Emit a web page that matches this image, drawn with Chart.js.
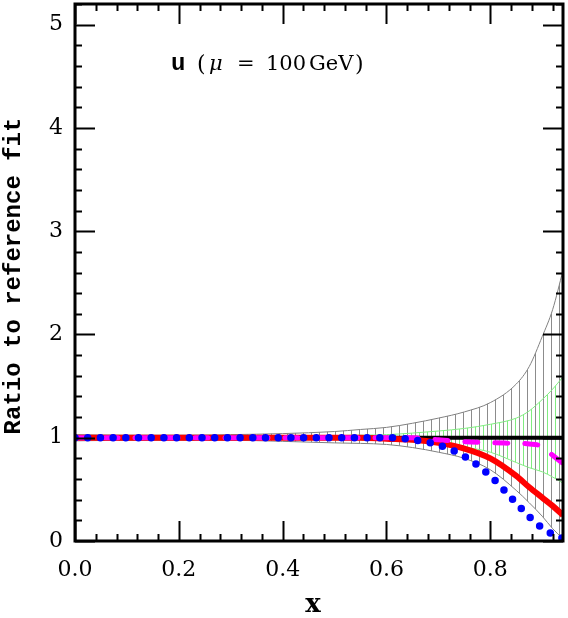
<!DOCTYPE html>
<html lang="en">
<head>
<meta charset="UTF-8">
<title>Ratio to reference fit</title>
<script src="https://cdn.jsdelivr.net/npm/chart.js"></script>
<style>
    body { margin: 0; background: #fff; }
    canvas { display: block; }
</style>
</head>
<body>
<canvas id="ratioChart" width="568" height="618"></canvas>
<script>
    // shared x sampling for every curve
    const xGrid = [0, 0.1, 0.2, 0.3, 0.4, 0.5, 0.55, 0.6, 0.65, 0.7, 0.75, 0.8, 0.85, 0.875, 0.9, 0.92, 0.94];

    // outer (grey hatched) band
    const outerUp  = [1.03, 1.025, 1.025, 1.03, 1.04, 1.06, 1.08, 1.10, 1.14, 1.19, 1.25, 1.34, 1.52, 1.69, 1.98, 2.24, 2.62];
    const outerLow = [0.97, 0.975, 0.975, 0.975, 0.965, 0.95, 0.945, 0.935, 0.905, 0.86, 0.80, 0.69, 0.49, 0.37, 0.24, 0.12, 0.02];

    // inner (green hatched) band
    const innerUp  = [1.01, 1.01, 1.01, 1.012, 1.015, 1.02, 1.025, 1.03, 1.045, 1.065, 1.09, 1.13, 1.19, 1.26, 1.37, 1.47, 1.59];
    const innerLow = [0.99, 0.99, 0.99, 0.99, 0.985, 0.98, 0.977, 0.972, 0.96, 0.945, 0.91, 0.86, 0.76, 0.71, 0.67, 0.62, 0.56];

    // reference line
    const refX = [0, 0.94];
    const refY = [1, 1];

    // fit ratios
    const solidFit  = [1, 1, 1, 1, 1, 1, 1, 0.99, 0.98, 0.95, 0.895, 0.80, 0.63, 0.52, 0.42, 0.34, 0.25];
    const dashedFit = [1, 1, 1, 1, 1, 1, 1, 1, 1.0, 0.98, 0.962, 0.952, 0.945, 0.94, 0.915, 0.83, 0.75];
    const dottedFit = [1, 1, 1, 1, 1, 1, 1, 1.0, 0.98, 0.93, 0.82, 0.63, 0.365, 0.235, 0.125, 0.065, 0.025];

    const xTicks = [0, 0.2, 0.4, 0.6, 0.8];
    const yTicks = [0, 1, 2, 3, 4, 5];

    const canvas = document.getElementById('ratioChart');
    const ctx = canvas.getContext('2d');

    function pts(xs, ys) {
        return xs.map((x, i) => ({ x: x, y: ys[i] }));
    }

    // vertical hatch pattern
    function hatch(color, offset) {
        const c = document.createElement('canvas');
        c.width = 8;
        c.height = 8;
        const g = c.getContext('2d');
        g.fillStyle = color;
        g.fillRect(offset, 0, 1, 8);
        return ctx.createPattern(c, 'repeat');
    }

    const framePlugin = {
        id: 'frame',
        afterDraw(chart) {
            const { ctx, chartArea: a, scales: { x, y } } = chart;
            ctx.save();
            ctx.strokeStyle = '#000';
            ctx.lineWidth = 2;
            ctx.beginPath();
            for (let i = 0; i <= 23; i++) {
                const px = Math.round(x.getPixelForValue(i * 0.04)) + 0.5;
                const len = i % 5 === 0 ? 20 : 7;
                ctx.moveTo(px, a.bottom); ctx.lineTo(px, a.bottom - len);
                ctx.moveTo(px, a.top); ctx.lineTo(px, a.top + len);
            }
            for (let i = 0; i <= 26; i++) {
                const py = Math.round(y.getPixelForValue(i * 0.2)) + 0.5;
                const len = i % 5 === 0 ? 20 : 7;
                ctx.moveTo(a.left, py); ctx.lineTo(a.left + len, py);
                ctx.moveTo(a.right, py); ctx.lineTo(a.right - len, py);
            }
            ctx.stroke();
            ctx.lineWidth = 3;
            ctx.strokeRect(a.left, a.top, a.right - a.left, a.bottom - a.top);

            // labels
            ctx.fillStyle = '#000';
            ctx.textBaseline = 'alphabetic';
            ctx.textAlign = 'left';
            ctx.font = 'bold 24px "Liberation Mono"';
            ctx.fillText('u', 171, 70);
            ctx.font = '22px "DejaVu Serif"';
            ctx.fillText('(', 197, 71);
            ctx.font = 'italic 21px "DejaVu Serif"';
            ctx.fillText('\u03bc', 209, 70);
            ctx.font = '21px "DejaVu Serif"';
            ctx.fillText('=', 237, 70);
            ctx.fillText('100', 266, 70);
            ctx.fillText('GeV', 309, 70);
            ctx.font = '22px "DejaVu Serif"';
            ctx.fillText(')', 355, 71);

            ctx.textAlign = 'center';
            ctx.font = 'bold 26px "DejaVu Serif"';
            ctx.fillText('x', 313, 612);

            ctx.translate(20, 276);
            ctx.rotate(-Math.PI / 2);
            ctx.font = 'bold 24px "Liberation Mono"';
            ctx.fillText('Ratio to reference fit', 0, 0);
            ctx.restore();
        }
    };

    const line = { pointRadius: 0, fill: false, cubicInterpolationMode: 'monotone' };

    new Chart(ctx, {
        type: 'line',
        data: {
            datasets: [
                {
                    ...line, data: pts(xGrid, outerUp), order: 8,
                    borderColor: '#808080', borderWidth: 1,
                    fill: '+1', backgroundColor: hatch('#8c8c8c', 7)
                },
                {
                    ...line, data: pts(xGrid, outerLow), order: 7,
                    borderColor: '#808080', borderWidth: 1
                },
                {
                    ...line, data: pts(xGrid, innerUp), order: 6,
                    borderColor: '#80ec80', borderWidth: 1,
                    fill: '+1', backgroundColor: hatch('#80ec80', 3)
                },
                {
                    ...line, data: pts(xGrid, innerLow), order: 5,
                    borderColor: '#80ec80', borderWidth: 1
                },
                {
                    ...line, data: pts(refX, refY), order: 4,
                    borderColor: '#000', borderWidth: 4
                },
                {
                    ...line, data: pts(xGrid, solidFit), order: 3,
                    borderColor: '#ff0000', borderWidth: 6
                },
                {
                    ...line, data: pts(xGrid, dashedFit), order: 2,
                    borderColor: '#ff00ff', borderWidth: 5,
                    borderDash: [13, 17], borderCapStyle: 'round'
                },
                {
                    ...line, data: pts(xGrid, dottedFit), order: 1,
                    borderColor: '#0000ff', borderWidth: 7.5,
                    borderDash: [0, 12.7], borderCapStyle: 'round'
                }
            ]
        },
        options: {
            responsive: false,
            animation: false,
            layout: { padding: { top: 4, right: 5, left: 0, bottom: 0 } },
            plugins: { legend: { display: false }, tooltip: { enabled: false } },
            scales: {
                x: {
                    type: 'linear',
                    min: 0,
                    max: 0.94,
                    grid: { display: false, drawTicks: false },
                    border: { display: false },
                    afterBuildTicks: s => { s.ticks = xTicks.map(v => ({ value: v })); },
                    afterFit: s => { s.height = 77; s.paddingLeft = 0; s.paddingRight = 0; },
                    ticks: {
                        padding: 16,
                        color: '#000',
                        maxRotation: 0,
                        font: { family: 'DejaVu Serif', size: 22 },
                        callback: v => v.toFixed(1)
                    }
                },
                y: {
                    min: 0,
                    max: 5.2,
                    grid: { display: false, drawTicks: false },
                    border: { display: false },
                    afterBuildTicks: s => { s.ticks = yTicks.map(v => ({ value: v })); },
                    afterFit: s => { s.width = 75; s.paddingTop = 0; s.paddingBottom = 0; },
                    ticks: {
                        padding: 12,
                        color: '#000',
                        font: { family: 'DejaVu Serif', size: 22 }
                    }
                }
            }
        },
        plugins: [framePlugin]
    });
</script>
</body>
</html>
